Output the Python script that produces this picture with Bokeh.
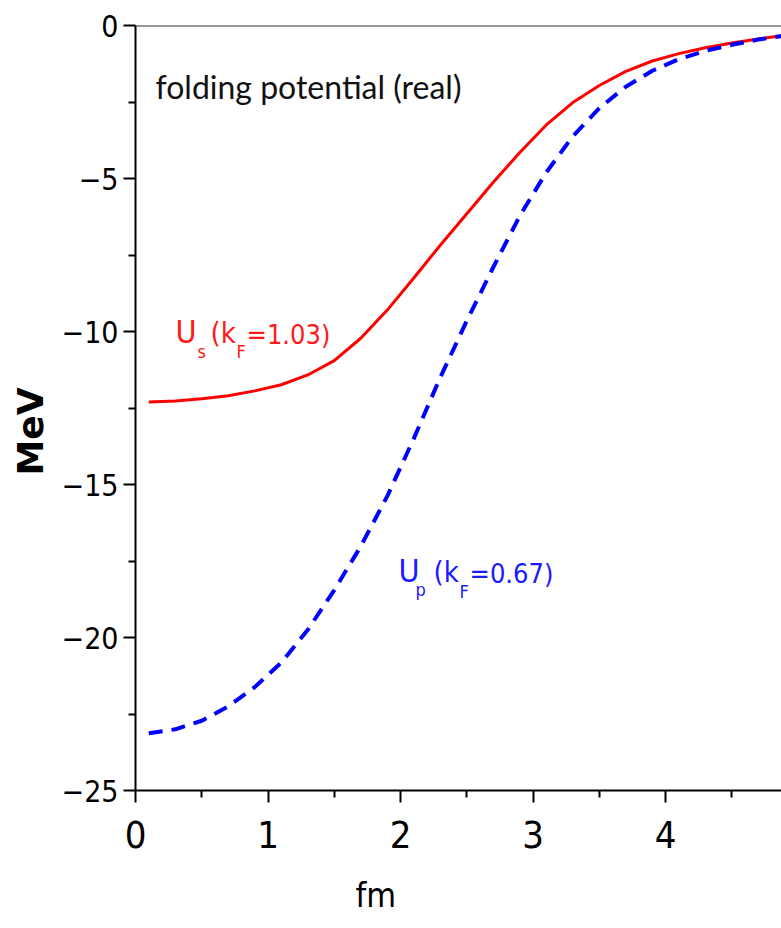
from bokeh.plotting import figure
from bokeh.models import Range1d, Label, Span, LinearAxis, FixedTicker, Title
from bokeh.embed import file_html
from bokeh.resources import INLINE

# ---- data ----
r_fm = [0.1, 0.3, 0.5, 0.7, 0.9, 1.1, 1.3, 1.5, 1.7, 1.9, 2.1, 2.3, 2.5,
        2.7, 2.9, 3.1, 3.3, 3.5, 3.7, 3.9, 4.1, 4.3, 4.5, 4.7, 4.9]
u_s = [-12.30, -12.27, -12.20, -12.10, -11.94, -11.74, -11.42, -10.95, -10.22,
       -9.30, -8.25, -7.18, -6.15, -5.12, -4.15, -3.25, -2.52, -1.96, -1.50,
       -1.16, -0.92, -0.73, -0.57, -0.44, -0.32]
u_p = [-23.13, -23.00, -22.72, -22.25, -21.62, -20.82, -19.75, -18.45, -17.02,
       -15.38, -13.50, -11.50, -9.65, -7.90, -6.22, -4.80, -3.62, -2.70, -2.00,
       -1.48, -1.10, -0.83, -0.63, -0.46, -0.33]
x_ticks = [0, 1, 2, 3, 4]
y_ticks = [-25, -20, -15, -10, -5, 0]
y_tick_labels = ["\u221225", "\u221220", "\u221215", "\u221210", "\u22125", "0"]

FONT = "DejaVu Sans Condensed"

p = figure(width=781, height=928, output_backend="svg", toolbar_location=None,
           x_range=Range1d(0, 4.875), y_range=Range1d(-25, 0),
           min_border_left=135, min_border_right=0, min_border_top=25,
           min_border_bottom=138, x_axis_type=None, y_axis_type=None)
p.grid.visible = False
p.outline_line_color = None
p.background_fill_color = "white"
p.border_fill_color = "white"

xa = LinearAxis(ticker=FixedTicker(ticks=x_ticks,
                                   minor_ticks=[0.5, 1.5, 2.5, 3.5, 4.5]))
ya = LinearAxis(ticker=FixedTicker(ticks=y_ticks,
                                   minor_ticks=[-22.5, -17.5, -12.5, -7.5, -2.5]))
for ax in (xa, ya):
    ax.axis_line_width = 2
    ax.axis_line_color = "black"
    ax.major_tick_line_width = 2
    ax.minor_tick_line_width = 2
    ax.major_tick_in = 0
    ax.minor_tick_in = 0
    ax.major_tick_out = 12
    ax.minor_tick_out = 7
    ax.major_label_text_font = FONT
    ax.major_label_text_color = "black"
xa.major_label_text_font_size = "38px"
xa.major_label_standoff = 18
ya.major_label_text_font_size = "30px"
ya.major_label_standoff = 5
ya.major_label_overrides = {t: s for t, s in zip(y_ticks, y_tick_labels)}
p.add_layout(xa, "below")
p.add_layout(ya, "left")

# axis titles as side titles (can be shifted along the axis)
p.add_layout(Title(text="MeV", align="left", offset=315, vertical_align="top",
                   standoff=12, text_font="DejaVu Sans",
                   text_font_style="bold", text_font_size="36px",
                   text_color="black"), "left")
p.add_layout(Title(text="\nfm", align="left", offset=220,
                   vertical_align="bottom", standoff=0, text_line_height=0.55,
                   text_font=FONT, text_font_size="34px",
                   text_font_style="normal", text_color="black"), "below")

p.add_layout(Span(location=0, dimension="width", line_color="#333333",
                  line_width=2))

p.line(r_fm, u_s, line_color="#ff0000", line_width=3)
p.line(r_fm, u_p, line_color="#0000ff", line_width=4, line_dash="14 9")

def lab(x, y, t, size, color="black", font=FONT, **kw):
    p.add_layout(Label(x=x, y=y, text=t, text_font=font,
                       text_font_size=size, text_color=color,
                       text_baseline="bottom", **kw))

lab(0.151, -2.63, "folding potential (real)", "32px", "#111111", font="Lato")
# U_s label
RED = "#ff1a1a"
lab(0.302, -10.64, "U", "32px", RED)
lab(0.468, -10.99, "s", "18px", RED)
lab(0.566, -10.62, "(k", "29px", RED)
lab(0.762, -10.99, "F", "18px", RED)
lab(0.838, -10.61, "=1.03)", "27px", RED)
# U_p label
BLUE = "#1a1aff"
lab(1.985, -18.45, "U", "32px", BLUE)
lab(2.113, -18.77, "p", "18px", BLUE)
lab(2.249, -18.43, "(k", "29px", BLUE)
lab(2.445, -18.83, "F", "18px", BLUE)
lab(2.521, -18.42, "=0.67)", "27px", BLUE)

open("out.html", "w").write(file_html(p, INLINE))
